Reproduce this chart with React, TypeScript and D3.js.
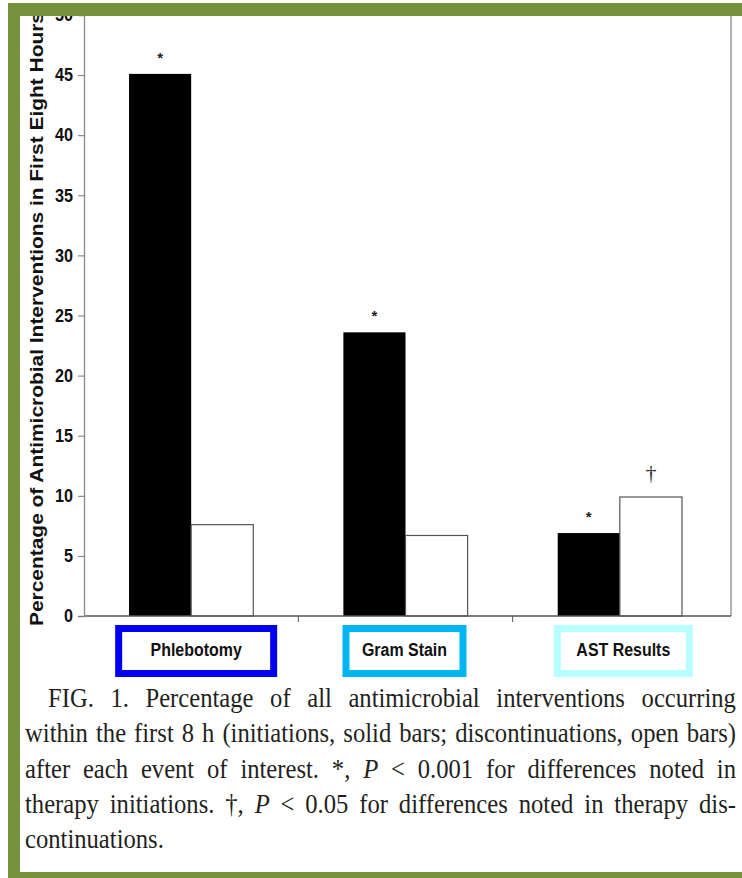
import { useEffect, useRef } from 'react';
import * as d3 from 'd3';

const categories = ['Phlebotomy', 'Gram Stain', 'AST Results'];
const initiations = [45.1, 23.6, 6.9];
const discontinuations = [7.6, 6.7, 9.9];
const initiationMarks = ['*', '*', '*'];
const discontinuationMarks = ['', '', '†'];
const yTicks = [0, 5, 10, 15, 20, 25, 30, 35, 40, 45, 50];
const yLabel = 'Percentage of Antimicrobial Interventions in First Eight Hours';
const captionLines = [
  'FIG. 1. Percentage of all antimicrobial interventions occurring',
  'within the first 8 h (initiations, solid bars; discontinuations, open bars)',
  'after each event of interest. *, P < 0.001 for differences noted in',
  'therapy initiations. †, P < 0.05 for differences noted in therapy dis-',
  'continuations.',
];

// label box look (layout only)
const boxColors = ['#0000f2', '#00b6f2', '#b8ffff'];
const boxWidths = [155, 117, 132];
const boxShift = [5, -1, 3.5];

const W = 742;
const H = 878;
const left = 84;
const right = 731;
const bottom = 616;
const frame = '#76923c';
const sans = "'Liberation Sans', Arial, sans-serif";
const serif = "'Liberation Serif', 'Times New Roman', serif";

export default function App() {
  const svgRef = useRef<SVGSVGElement>(null);

  useEffect(() => {
    const svg = d3.select(svgRef.current);
    svg.selectAll('*').remove();

    const x = d3.scaleBand().domain(categories).range([left, 727]);
    const xs = d3.scaleBand().domain(['init', 'disc']).range([0, x.bandwidth()]).paddingInner(0).paddingOuter(0.725);
    const y = d3.scaleLinear().domain([0, 50]).range([bottom, 15]);

    const plot = svg.append('g');

    // plot frame on the right
    plot.append('line')
      .attr('x1', right).attr('x2', right)
      .attr('y1', y(50)).attr('y2', bottom)
      .attr('stroke', '#9a9a9a').attr('stroke-width', 1.5);

    // bars
    plot.selectAll('.init')
      .data(categories)
      .join('rect')
      .attr('class', 'init')
      .attr('x', (d) => x(d)! + xs('init')!)
      .attr('width', xs.bandwidth())
      .attr('y', (d, i) => y(initiations[i]))
      .attr('height', (d, i) => bottom - y(initiations[i]))
      .attr('fill', '#000');

    plot.selectAll('.disc')
      .data(categories)
      .join('rect')
      .attr('class', 'disc')
      .attr('x', (d) => x(d)! + xs('disc')!)
      .attr('width', xs.bandwidth())
      .attr('y', (d, i) => y(discontinuations[i]))
      .attr('height', (d, i) => bottom - y(discontinuations[i]))
      .attr('fill', '#fff')
      .attr('stroke', '#555')
      .attr('stroke-width', 1.2);

    // significance marks
    plot.selectAll('.star')
      .data(categories)
      .join('text')
      .attr('class', 'star')
      .attr('x', (d) => x(d)! + xs('init')! + xs.bandwidth() / 2)
      .attr('y', (d, i) => y(initiations[i]) - 11)
      .attr('text-anchor', 'middle')
      .attr('font-family', sans)
      .attr('font-size', 15)
      .attr('font-weight', 'bold')
      .attr('fill', '#222')
      .text((d, i) => initiationMarks[i]);

    plot.selectAll('.dagger')
      .data(categories)
      .join('text')
      .attr('class', 'dagger')
      .attr('x', (d) => x(d)! + xs('disc')! + xs.bandwidth() / 2)
      .attr('y', (d, i) => y(discontinuations[i]) - 17)
      .attr('text-anchor', 'middle')
      .attr('font-family', serif)
      .attr('font-size', 22)
      .attr('fill', '#333')
      .text((d, i) => discontinuationMarks[i]);

    // x axis
    plot.append('line')
      .attr('x1', left).attr('x2', right)
      .attr('y1', bottom).attr('y2', bottom)
      .attr('stroke', '#555').attr('stroke-width', 1.3);
    plot.selectAll('.xtick')
      .data(categories.slice(1))
      .join('line')
      .attr('class', 'xtick')
      .attr('x1', (d) => x(d)!).attr('x2', (d) => x(d)!)
      .attr('y1', bottom).attr('y2', bottom + 6)
      .attr('stroke', '#555');

    // y axis
    const yAxis = d3.axisLeft(y).tickValues(yTicks).tickSize(6).tickPadding(5).tickFormat(d3.format('d'));
    const gy = plot.append('g').attr('transform', `translate(${left},0)`).call(yAxis);
    gy.select('.domain').attr('stroke', '#8a8a8a').attr('stroke-width', 1.3);
    gy.selectAll('.tick line').attr('stroke', '#777');
    gy.selectAll('.tick text')
      .attr('font-family', sans)
      .attr('font-size', 18)
      .attr('font-weight', 'bold')
      .attr('fill', '#111')
      .attr('textLength', (d: any) => String(d).length * 9)
      .attr('lengthAdjust', 'spacingAndGlyphs');

    plot.append('text')
      .attr('transform', `translate(43,626) rotate(-90)`)
      .attr('font-family', sans)
      .attr('font-size', 19)
      .attr('font-weight', 'bold')
      .attr('fill', '#111')
      .attr('textLength', 614)
      .attr('lengthAdjust', 'spacingAndGlyphs')
      .text(yLabel);

    // category label boxes
    const boxes = plot.selectAll('.catbox')
      .data(categories)
      .join('g')
      .attr('class', 'catbox')
      .attr('transform', (d, i) => `translate(${x(d)! + x.bandwidth() / 2 + boxShift[i]},651)`);
    boxes.append('rect')
      .attr('x', (d, i) => -boxWidths[i] / 2)
      .attr('y', -22.5)
      .attr('width', (d, i) => boxWidths[i])
      .attr('height', 45)
      .attr('fill', '#fff')
      .attr('stroke', (d, i) => boxColors[i])
      .attr('stroke-width', 7);
    boxes.append('text')
      .attr('text-anchor', 'middle')
      .attr('transform', 'translate(0,5) scale(0.84,1)')
      .attr('font-family', sans)
      .attr('font-size', 19)
      .attr('font-weight', 'bold')
      .attr('fill', '#111')
      .text((d) => d);

    // caption, justified word by word
    const cap = svg.append('g').attr('fill', '#231f20');
    captionLines.forEach((line, i) => {
      const words = line.split(' ');
      const yy = 707 + i * 35.3;
      const x0 = i === 0 ? 48 : 25;
      const x1 = 736;
      const last = i === captionLines.length - 1;
      const nodes = words.map((w) => {
        const t = cap.append('text')
          .attr('font-family', serif)
          .attr('font-size', 28);
        if (w === 'P') t.attr('font-style', 'italic');
        t.text(w);
        return t;
      });
      const widths = nodes.map((n) => (n.node() as SVGTextElement).getComputedTextLength());
      const sum = d3.sum(widths);
      let sx = 0.88;
      let gap = 7;
      if (!last) {
        sx = Math.min(0.88, (x1 - x0 - 5 * (words.length - 1)) / sum);
        gap = (x1 - x0 - sum * sx) / (words.length - 1);
      }
      let cx = x0;
      nodes.forEach((n, j) => {
        n.attr('transform', `translate(${cx},${yy}) scale(${sx},1)`);
        cx += widths[j] * sx + gap;
      });
    });

    // green frame on top
    const fr = svg.append('g').attr('fill', frame);
    fr.append('rect').attr('x', 8).attr('y', 3).attr('width', W - 8).attr('height', 13);
    fr.append('rect').attr('x', 8).attr('y', 3).attr('width', 12).attr('height', H - 3);
    fr.append('rect').attr('x', 8).attr('y', 872).attr('width', W - 8).attr('height', 6);
  }, []);

  return (
    <svg
      ref={svgRef}
      width={W}
      height={H}
      style={{ position: 'absolute', left: 0, top: 0, background: '#fff' }}
    />
  );
}
